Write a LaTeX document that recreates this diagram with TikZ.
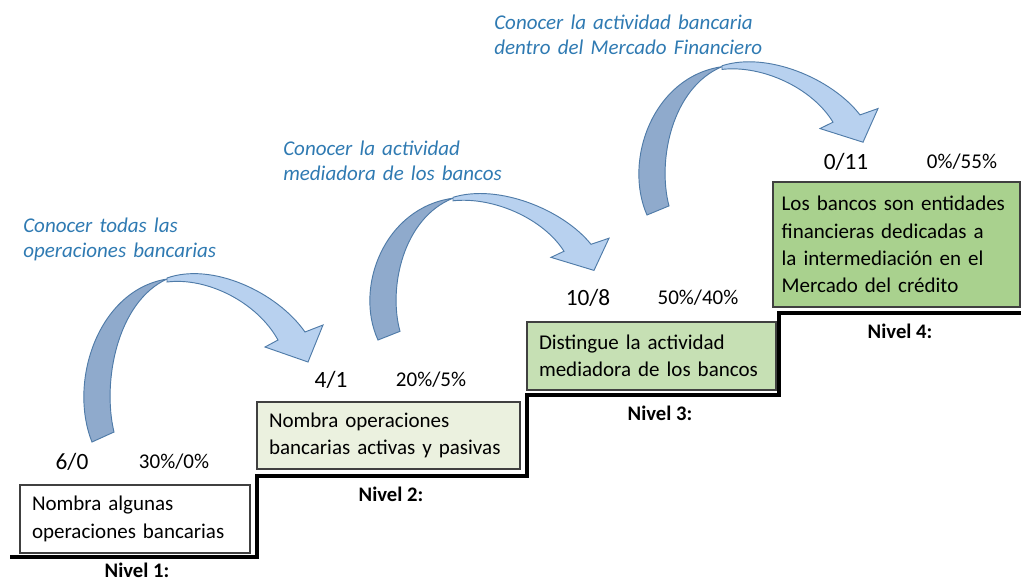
\documentclass[tikz,border=0pt]{standalone}
\usepackage{fontspec}
\setmainfont{Carlito}
\newfontfamily\goalfont[WordSpace=1.5]{Carlito}

\definecolor{bandback}{HTML}{8FAACC}
\definecolor{bandfront}{HTML}{B8D1EF}
\definecolor{bandline}{HTML}{4F7BA8}
\definecolor{goalblue}{HTML}{2F7AB2}
\definecolor{lvltwo}{HTML}{EBF1DF}
\definecolor{lvlthree}{HTML}{C6E0B4}
\definecolor{lvlfour}{HTML}{A9D18E}

% curved band arrow, tail end at #1, vertical scale #2
\newcommand{\bandarrow}[2]{%
  \begin{scope}[shift={#1}, yscale=#2]
    \filldraw[fill=bandback, draw=bandline, line width=0.7pt]
      (0,0) .. controls (-24,-60) and (6,-152) .. (75,-163)
      .. controls (25,-140) and (10,-60) .. (22,-10) -- cycle;
    \filldraw[fill=bandfront, draw=bandline, line width=0.7pt, line join=miter]
      (75,-164) .. controls (120,-180) and (185,-150) .. (213,-110)
      -- (231,-117) -- (216,-80) -- (173,-95) -- (186,-102)
      .. controls (165,-140) and (115,-165) .. (75,-160) -- cycle;
  \end{scope}}

\begin{document}
\begin{tikzpicture}[
    x=0.75pt, y=-0.75pt,
    level/.style={rectangle, draw=black!75, line width=0.8pt, inner xsep=9pt, inner ysep=0pt, align=left, font=\fontsize{15.75}{20.5}\selectfont},
    goal/.style={anchor=west, inner sep=0pt, align=left, text=goalblue, font=\goalfont\fontsize{15.75}{18.75}\selectfont\itshape},
    count/.style={inner sep=0pt, font=\fontsize{17.5}{20}\selectfont},
    pct/.style={inner sep=0pt, font=\fontsize{15.75}{19}\selectfont},
    nivel/.style={inner sep=0pt, font=\fontsize{15.5}{19}\selectfont\bfseries},
    stairline/.style={line width=2.8pt, line join=miter}
]
\useasboundingbox (0,0) rectangle (1021,583);

% Arrows
\bandarrow{(92,442)}{1}
\bandarrow{(378,340)}{0.87}
\bandarrow{(647,215)}{0.91}

% Goals
\node[goal] (goal1) at (23,239.5) {Conocer todas las\\operaciones bancarias};
\node[goal] (goal2) at (283,160.5) {Conocer la actividad\\mediadora de los bancos};
\node[goal] (goal3) at (494,34.5) {Conocer la actividad bancaria\\dentro del Mercado Financiero};

% Counts
\node[count] (num1) at (72,462) {6/0};
\node[pct] (pct1) at (174,462) {30\%/0\%};
\node[count] (num2) at (331,380) {4/1};
\node[pct] (pct2) at (431,380) {20\%/5\%};
\node[count] (num3) at (588,298) {10/8};
\node[pct] (pct3) at (698,298) {50\%/40\%};
\node[count] (num4) at (846,162) {0/11};
\node[pct] (pct4) at (962,162) {0\%/55\%};

% Levels
\node[level, fill=white, text width=154.5pt, minimum height=51pt] (box1) at (135,519) {Nombra algunas\\operaciones bancarias};
\node[level, fill=lvltwo, text width=179.25pt, minimum height=50.25pt] (box2) at (388.5,435.5) {Nombra operaciones\\bancarias activas y pasivas};
\node[level, fill=lvlthree, text width=168.75pt, minimum height=51pt] (box3) at (651.5,356) {Distingue la actividad\\mediadora de los bancos};
\node[level, fill=lvlfour, inner xsep=6.5pt, text width=172.25pt, minimum height=93.75pt] (box4) at (896.5,244.5) {Los bancos son entidades\\financieras dedicadas a\\la intermediación en el\\Mercado del crédito};

% Stairs
\draw[stairline] (10,557) -| (257,476) -| (527,395) -| (779,313) -- (1021,313);

\node[nivel] (niv1) at (137,570) {Nivel 1:};
\node[nivel] (niv2) at (391,494) {Nivel 2:};
\node[nivel] (niv3) at (660,413) {Nivel 3:};
\node[nivel] (niv4) at (900,331) {Nivel 4:};

\end{tikzpicture}
\end{document}
